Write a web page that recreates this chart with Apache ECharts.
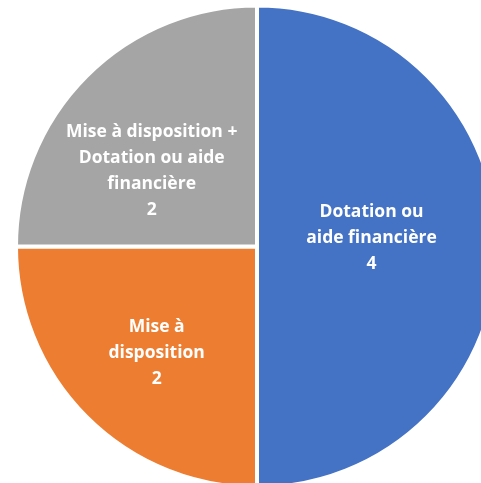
<!DOCTYPE html>
<html>
<head>
<meta charset="utf-8">
<script src="https://cdn.jsdelivr.net/npm/echarts@6/dist/echarts.min.js"></script>
<style>
  html, body { margin: 0; padding: 0; background: #fff; }
  #chart { width: 481px; height: 483px; }
</style>
</head>
<body>
<div id="chart"></div>
<script>
  // Données du graphique
  const categories = [
    'Dotation ou\naide financière',
    'Mise à\ndisposition',
    'Mise à disposition +\nDotation ou aide\nfinancière'
  ];
  const values = [4, 2, 2];
  const colors = ['#4472C4', '#ED7D31', '#A5A5A5'];
  // décalage des étiquettes (placement façon Excel)
  const labelOffsets = [[-9, -8], [-13, 19], [-18, 12]];

  const chart = echarts.init(document.getElementById('chart'));

  chart.setOption({
    animation: false,
    series: [{
      type: 'pie',
      center: [257, 246.5],
      radius: [0, 241],
      startAngle: 90,
      clockwise: true,
      data: categories.map((c, i) => ({
        name: c,
        value: values[i],
        itemStyle: { color: colors[i] },
        label: { offset: labelOffsets[i] }
      })),
      itemStyle: { borderColor: '#fff', borderWidth: 4 },
      label: {
        show: true,
        position: 'inside',
        formatter: '{b}\n{c}',
        color: '#fff',
        fontFamily: 'Open Sans',
        fontWeight: 'bold',
        fontSize: 17.5,
        lineHeight: 26,
        align: 'center'
      },
      labelLine: { show: false }
    }]
  });
</script>
</body>
</html>
